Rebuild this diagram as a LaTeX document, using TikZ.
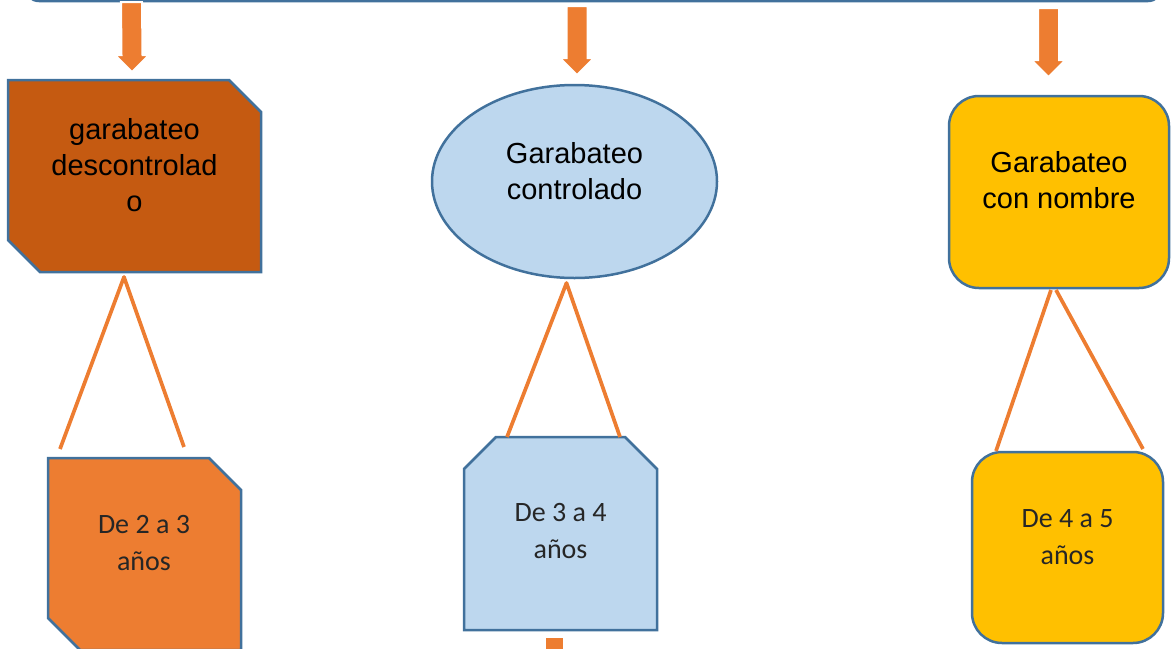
\documentclass[tikz,border=0pt]{standalone}
\usepackage{fontspec}
\setmainfont{Liberation Sans}
\newfontfamily\calibri{Carlito}
\usetikzlibrary{calc,shapes.geometric}
\definecolor{borde}{HTML}{41719C}
\definecolor{marron}{HTML}{C55A11}
\definecolor{naranja}{HTML}{ED7D31}
\definecolor{celeste}{HTML}{BDD7EE}
\definecolor{amarillo}{HTML}{FFC000}
\def\flecha(#1)(#2){\filldraw[fill=naranja, draw=white, line width=2pt] ($(#1)+(-10.5,0)$) -- ($(#1)+(10.5,0)$) -- ($(#2)+(10.5,-17)$) -- ($(#2)+(17,-17)$) -- (#2) -- ($(#2)+(-17,-17)$) -- ($(#2)+(-10.5,-17)$) -- cycle;}
\def\snipdiag[#1](#2){\filldraw[caja, fill=#1] (#2.north west) -- ($(#2.north east)+(-32,0)$) -- ($(#2.north east)+(0,32)$) -- (#2.south east) -- ($(#2.south west)+(32,0)$) -- ($(#2.south west)+(0,-32)$) -- cycle;}
\def\sniptop[#1](#2){\filldraw[caja, fill=#1] ($(#2.north west)+(32,0)$) -- ($(#2.north east)+(-32,0)$) -- ($(#2.north east)+(0,32)$) -- (#2.south east) -- (#2.south west) -- ($(#2.north west)+(0,32)$) -- cycle;}
\tikzset{
  caja/.style={draw=borde, line width=2.5pt, inner sep=0pt, outer sep=0pt},
  marco/.style={inner sep=0pt, outer sep=0pt},
  titulo/.style={align=center, font=\fontsize{29}{36}\selectfont, text=black},
  edad/.style={align=center, font=\calibri\fontsize{28}{37}\selectfont, text=black!85},
  pata/.style={draw=naranja, line width=3.7pt}
}

\begin{document}
\begin{tikzpicture}[x=1pt, y=-1pt]
			%%%%% START %%%%%
			\useasboundingbox (0,0) rectangle (1172,648);
			\clip (0,0) rectangle (1172,648);
			
			\node[caja, fill=white, rounded corners=14pt, minimum width=1137pt, minimum height=80pt, anchor=south] (banner) at (593.5,1) {};
			
			\node[marco, minimum width=253pt, minimum height=192pt] (desc) at (134.5,176) {};
			\snipdiag[marron](desc)
			\node[caja, ellipse, fill=celeste, minimum width=285pt, minimum height=193pt] (ctrl) at (574.5,181.5) {};
			\node[caja, fill=amarillo, rounded corners=30pt, minimum width=220pt, minimum height=192pt] (nomb) at (1059,192) {};
			
			\node[marco, minimum width=193pt, minimum height=192pt] (edad1) at (144.5,554) {};
			\snipdiag[naranja](edad1)
			\node[marco, minimum width=193pt, minimum height=193pt] (edad2) at (560.5,533.5) {};
			\sniptop[celeste](edad2)
			\node[caja, fill=amarillo, rounded corners=30pt, minimum width=191pt, minimum height=191pt] (edad3) at (1067.5,547.5) {};
			
			\node[titulo] (tdesc) at ($(desc)+(0,-11)$) {garabateo\\descontrolad\\o};
			\node[titulo] (tctrl) at ($(ctrl)+(0,-10)$) {Garabateo\\controlado};
			\node[titulo] (tnomb) at ($(nomb)+(0,-11.5)$) {Garabateo\\con nombre};
			
			\node[edad] (tedad1) at ($(edad1)+(-0.5,-11)$) {De 2 a 3\\años};
			\node[edad] (tedad2) at ($(edad2)+(0,-2)$) {De 3 a 4\\años};
			\node[edad] (tedad3) at ($(edad3)+(0,-10.5)$) {De 4 a 5\\años};
			
			% flechas
			\coordinate (f1a) at ($(banner.south -| desc.north)+(-3,1)$);
			\coordinate (f1b) at ($(desc.north)+(-2.5,-8)$);
			\coordinate (f2a) at ($(banner.south -| ctrl.north)+(2.5,5)$);
			\coordinate (f2b) at ($(ctrl.north)+(2.5,-10)$);
			\coordinate (f3a) at ($(banner.south -| nomb.north)+(-10.5,7)$);
			\coordinate (f3b) at ($(nomb.north)+(-10.5,-19)$);
			\flecha(f1a)(f1b)
			\flecha(f2a)(f2b)
			\flecha(f3a)(f3b)
			
			\fill[naranja] ($(edad2.south)+(-14.5,8)$) rectangle ($(edad2.south)+(2.5,30)$);
			
			% patas
			\draw[pata, line join=round] ($(edad1.north)+(-84.5,-9)$) -- ($(desc.south)+(-10.5,5)$) -- ($(edad1.north)+(39.5,-11)$);
			\draw[pata, line join=round] ($(edad2.north)+(-53.5,0)$) -- ($(ctrl.south)+(-8,5)$) -- ($(edad2.north)+(59.5,0)$);
			\draw[pata] ($(nomb.south)+(-8,2)$) -- ($(edad3.north)+(-71.5,-1)$);
			\draw[pata] ($(nomb.south)+(-3,2)$) -- ($(edad3.north)+(75.5,-3)$);
			
			%%%%% END %%%%%
\end{tikzpicture}
\end{document}
